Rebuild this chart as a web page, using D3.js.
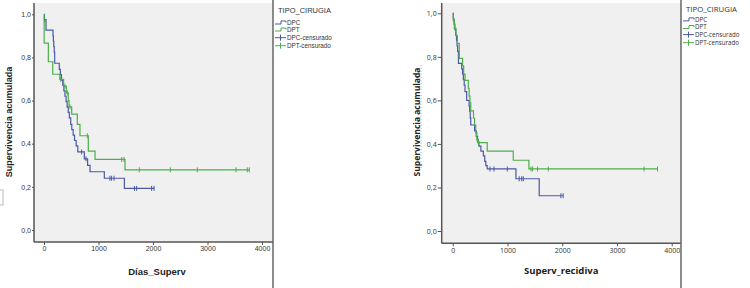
<!DOCTYPE html>
<html lang="es">
<head>
<meta charset="UTF-8">
<title>Supervivencia acumulada</title>
<script src="https://cdn.jsdelivr.net/npm/d3@7/dist/d3.min.js"></script>
<style>
  body { margin: 0; background: #fff; }
</style>
</head>
<body>
<script>
    // ---- data ----
    const xTicks = [0, 1000, 2000, 3000, 4000];
    const yTicks = [0, 0.2, 0.4, 0.6, 0.8, 1.0];
    const legendTitle = "TIPO_CIRUGIA";
    const legendLabels = ["DPC", "DPT", "DPC-censurado", "DPT-censurado"];

    // Días_Superv
    const supDpcT = [0, 8, 37, 165, 172, 180, 188, 196, 280, 300, 320, 345, 365, 385, 405, 425, 445, 465, 490, 510, 535, 560, 590, 620, 740, 800, 845, 1107, 1475];
    const supDpcS = [1, 0.975, 0.927, 0.9, 0.875, 0.85, 0.825, 0.773, 0.745, 0.72, 0.695, 0.67, 0.645, 0.62, 0.595, 0.57, 0.545, 0.52, 0.49, 0.465, 0.44, 0.415, 0.39, 0.362, 0.33, 0.30, 0.27, 0.24, 0.193];
    const supDpcCens = [10, 690, 770, 1210, 1240, 1285, 1660, 1700, 1975, 2020];

    const supDptT = [0, 3, 80, 160, 290, 360, 410, 445, 460, 508, 611, 660, 813, 936, 1486];
    const supDptS = [1, 0.866, 0.78, 0.722, 0.698, 0.667, 0.636, 0.60, 0.571, 0.537, 0.49, 0.437, 0.366, 0.327, 0.279];
    const supDptCens = [306, 385, 428, 477, 795, 1425, 1468, 1749, 2318, 2813, 3523, 3730, 3767];

    // Superv_recidiva
    const recDpcT = [0, 10, 25, 40, 55, 70, 80, 90, 105, 165, 180, 195, 210, 225, 255, 300, 310, 320, 330, 400, 430, 455, 480, 515, 560, 585, 605, 630, 1155, 1580];
    const recDpcS = [1, 0.975, 0.95, 0.925, 0.9, 0.875, 0.85, 0.825, 0.77, 0.745, 0.72, 0.695, 0.67, 0.64, 0.6, 0.575, 0.55, 0.52, 0.487, 0.46, 0.435, 0.41, 0.39, 0.367, 0.345, 0.32, 0.3, 0.285, 0.24, 0.162];
    const recDpcCens = [470, 680, 754, 997, 1215, 1260, 1290, 1976, 2018];

    const recDptT = [0, 10, 30, 60, 85, 120, 180, 200, 225, 285, 300, 315, 330, 380, 400, 420, 440, 455, 631, 1106, 1392];
    const recDptS = [1, 0.966, 0.931, 0.897, 0.862, 0.793, 0.759, 0.721, 0.692, 0.655, 0.62, 0.589, 0.552, 0.518, 0.486, 0.452, 0.42, 0.406, 0.367, 0.325, 0.285];
    const recDptCens = [448, 470, 1430, 1460, 1550, 1745, 3496, 3741];

    const blue = "#4b58a6";
    const green = "#4cae4c";

    let width = 750;
    let height = 288;

    let svg = d3.select("body").append("svg")
        .attr("width", width)
        .attr("height", height)
        .style("display", "block");

    let loc = d3.formatLocale({decimal: ",", thousands: "", grouping: [3], currency: ["", ""]});
    let fmt = loc.format(".1f");

    function survAt(T, S, t) {
        return S[Math.max(0, d3.bisectRight(T, t) - 1)];
    }

    function drawPanel(p, curves) {
        let g = svg.append("g");
        let x = d3.scaleLinear().domain([0, 4000]).range(p.xr);
        let y = d3.scaleLinear().domain([0, 1]).range(p.yr);

        g.append("rect")
            .attr("x", p.x0).attr("y", p.y0)
            .attr("width", p.x1 - p.x0).attr("height", p.y1 - p.y0)
            .attr("fill", "#f0f0f0");

        let yAxis = d3.axisLeft(y).tickValues(yTicks).tickFormat(fmt)
            .tickSizeInner(p.yTick).tickSizeOuter(0).tickPadding(1);
        let xAxis = d3.axisBottom(x).tickValues(xTicks).tickFormat(d3.format("d"))
            .tickSizeInner(3).tickSizeOuter(0).tickPadding(p.xPad);

        let ya = g.append("g").attr("transform", `translate(${p.x0},0)`).call(yAxis);
        let xa = g.append("g").attr("transform", `translate(0,${p.y1})`).call(xAxis);
        [ya, xa].forEach(a => {
            a.select(".domain").remove();
            a.selectAll("line").attr("stroke", "#555");
            a.selectAll("text").attr("fill", "#333")
                .style("font-family", p.font).style("font-size", p.tickFont + "px");
        });

        // axis frame
        g.append("line").attr("x1", p.x0).attr("x2", p.x0).attr("y1", p.y0).attr("y2", p.y1)
            .attr("stroke", "#555").attr("stroke-width", 1.5);
        g.append("line").attr("x1", p.x0).attr("x2", p.x1).attr("y1", p.y1).attr("y2", p.y1)
            .attr("stroke", "#555").attr("stroke-width", 1.5);
        g.append("line").attr("x1", p.x1).attr("x2", p.x1).attr("y1", 0).attr("y2", height)
            .attr("stroke", "#666").attr("stroke-width", 1.5);

        let line = d3.line().x(d => x(d[0])).y(d => y(d[1])).curve(d3.curveStepAfter);

        curves.forEach(c => {
            let pts = c.T.map((t, i) => [t, c.S[i]]);
            let end = Math.max(d3.max(c.cens), d3.max(c.T));
            pts.push([end, c.S[c.S.length - 1]]);
            g.append("path")
                .attr("d", line(pts))
                .attr("fill", "none")
                .attr("stroke", c.color)
                .attr("stroke-width", 1.2);
            g.selectAll(null).data(c.cens).join("line")
                .attr("x1", d => x(d)).attr("x2", d => x(d))
                .attr("y1", d => y(survAt(c.T, c.S, d)) - 2.5)
                .attr("y2", d => y(survAt(c.T, c.S, d)) + 2.5)
                .attr("stroke", c.color).attr("stroke-width", 1);
        });

        // titles
        g.append("text")
            .attr("x", (p.xr[0] + p.xr[1]) / 2 + p.xTitleDx).attr("y", p.xTitleY)
            .attr("text-anchor", "middle")
            .style("font-family", p.font).style("font-weight", "bold").style("font-size", p.xTitleFont + "px")
            .attr("fill", "#222")
            .text(p.xTitle);
        g.append("text")
            .attr("transform", `translate(${p.yTitleX},${p.yTitleY}) rotate(-90)`)
            .attr("text-anchor", "middle")
            .style("font-family", p.font).style("font-weight", "bold").style("font-size", p.yTitleFont + "px")
            .attr("fill", "#222")
            .text("Supervivencia acumulada");

        // legend
        let lx = p.x1 + 2;
        g.append("text").attr("x", p.x1 + 5).attr("y", p.legY[0] + 3)
            .style("font-family", p.font).style("font-size", p.legTitleFont + "px").attr("fill", "#333")
            .text(legendTitle);
        let colors = [blue, green, blue, green];
        legendLabels.forEach((lab, i) => {
            let ly = p.legY[i + 1];
            if (i < 2) {
                g.append("path")
                    .attr("d", `M${lx},${ly + 1.5}H${lx + 6}V${ly - 1.5}H${lx + 11}V${ly}`)
                    .attr("fill", "none").attr("stroke", colors[i]).attr("stroke-width", 1);
            } else {
                g.append("line").attr("x1", lx).attr("x2", lx + 11).attr("y1", ly).attr("y2", ly)
                    .attr("stroke", colors[i]).attr("stroke-width", 1);
                g.append("line").attr("x1", lx + 5.5).attr("x2", lx + 5.5).attr("y1", ly - 3).attr("y2", ly + 3)
                    .attr("stroke", colors[i]).attr("stroke-width", 1);
            }
            g.append("text").attr("x", lx + 12).attr("y", ly + 2.2)
                .style("font-family", p.font).style("font-size", p.legFont + "px").attr("fill", "#333")
                .text(lab);
        });
    }

    drawPanel({
        x0: 34, x1: 273, y0: 3, y1: 242, xr: [44, 262], yr: [230, 14.3],
        yTick: 2, xPad: 1, font: "'Liberation Sans', Arial, sans-serif", tickFont: 7,
        xTitleFont: 9.5, yTitleFont: 9,
        xTitle: "Días_Superv", xTitleDx: 4, xTitleY: 275, yTitleX: 12, yTitleY: 122,
        legY: [10, 22.5, 29.5, 37.7, 45.7], legTitleFont: 7.5, legFont: 6.3
    }, [
        {T: supDpcT, S: supDpcS, cens: supDpcCens, color: blue},
        {T: supDptT, S: supDptS, cens: supDptCens, color: green}
    ]);

    drawPanel({
        x0: 441.7, x1: 681, y0: 3, y1: 243.3, xr: [452.7, 671.7], yr: [231, 13.3],
        yTick: 4, xPad: 2, font: "'Open Sans', sans-serif", tickFont: 7,
        xTitleFont: 9.5, yTitleFont: 8.5,
        xTitle: "Superv_recidiva", xTitleDx: -1, xTitleY: 273.5, yTitleX: 420, yTitleY: 122,
        legY: [9.3, 19.4, 27, 34.6, 42.7], legTitleFont: 7.8, legFont: 6.2
    }, [
        {T: recDpcT, S: recDpcS, cens: recDpcCens, color: blue},
        {T: recDptT, S: recDptS, cens: recDptCens, color: green}
    ]);

    // stray marks at the edges of the original screenshot
    svg.append("rect").attr("x", -5).attr("y", 190).attr("width", 8).attr("height", 15)
        .attr("fill", "#fff").attr("stroke", "#bbb");
    svg.append("line").attr("x1", 421).attr("x2", 421).attr("y1", 65).attr("y2", 170)
        .attr("stroke", "#bbb").attr("stroke-dasharray", "1,2");
</script>
</body>
</html>
